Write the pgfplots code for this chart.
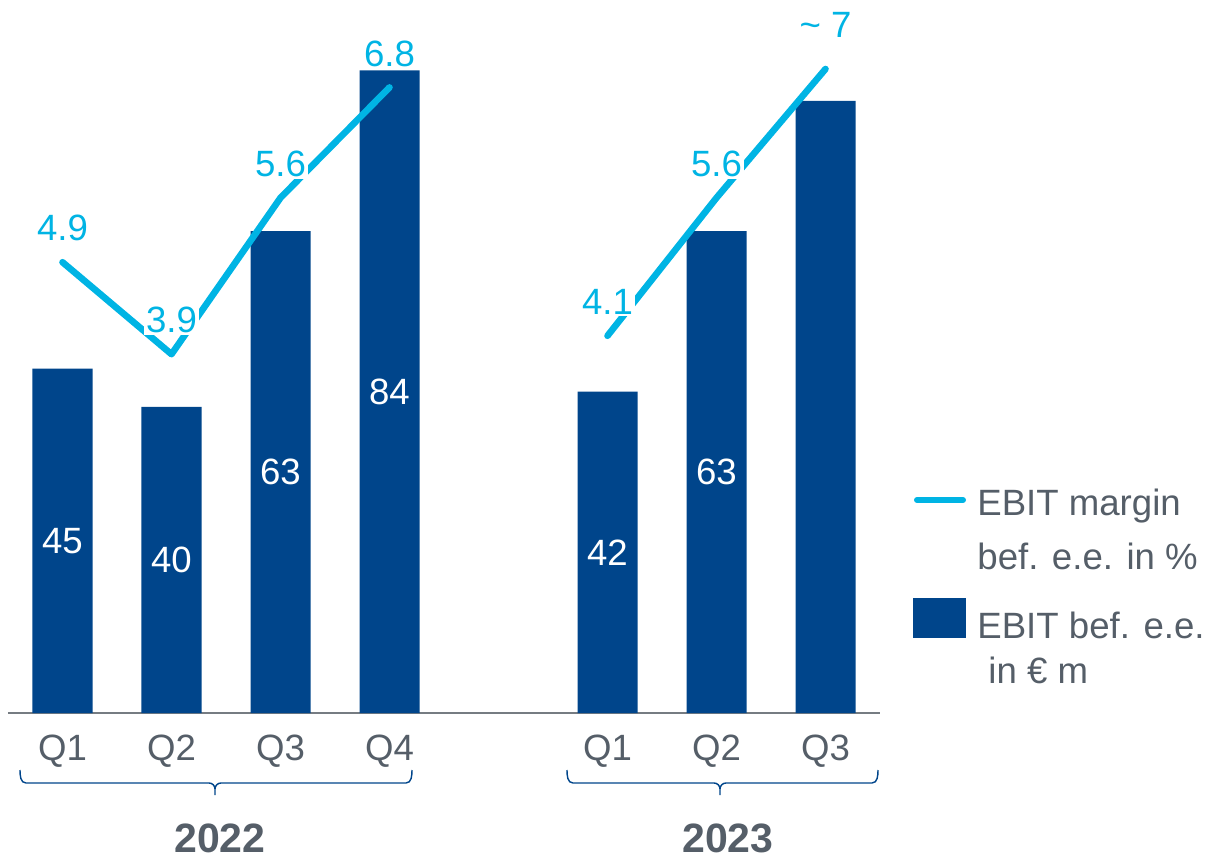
\documentclass[border=0pt]{standalone}
\usepackage{fontspec}
\setmainfont{Liberation Sans}
\usepackage{pgfplots}
\pgfplotsset{compat=1.18}
\definecolor{barblue}{RGB}{0,69,139}
\definecolor{linecyan}{RGB}{0,180,228}
\definecolor{txtgray}{RGB}{85,94,104}
\definecolor{axgray}{RGB}{118,124,130}
\newcommand{\lab}{\fontsize{18.3}{22}\selectfont}

\begin{document}
\begin{tikzpicture}
\pgfplotsset{
  base/.style={
    at={(0,0)}, anchor=south west,
    width=436pt, height=354.2pt, scale only axis,
    xmin=-0.5, xmax=7.5, ymin=0,
    clip=false,
  }
}
% bars: EBIT bef. e.e. in EUR m
\begin{axis}[base, ymax=92.6,
  hide y axis,
  axis x line*=bottom,
  x axis line style={-, draw=axgray, line width=1pt},
  xtick={0,1,2,3,5,6,7},
  xticklabels={Q1,Q2,Q3,Q4,Q1,Q2,Q3},
  major tick length=0pt,
  xticklabel style={anchor=center, yshift=-19pt, text=txtgray, font=\lab},
  ybar, bar width=30pt,
  point meta=explicit symbolic,
  nodes near coords,
  visualization depends on=rawy \as \rawy,
  every node near coord/.append style={anchor=center, text=white, font=\lab,
    shift={(axis direction cs:0,-\rawy/2)}},
]
\addplot[fill=barblue, draw=none] coordinates {
  (0,45)[45] (1,40)[40] (2,63)[63] (3,84)[84] (5,42)[42] (6,63)[63] (7,80)[]
};
\end{axis}
% line: EBIT margin in %
\begin{axis}[base, ymax=7.7, hide axis,
  point meta=explicit symbolic,
  nodes near coords,
  unbounded coords=jump,
  every node near coord/.append style={anchor=center, yshift=17pt,
    text=linecyan, font=\lab, fill=white, inner sep=1pt},
]
\addplot[linecyan, line width=3.3pt, line cap=round, line join=round] coordinates {
  (0,4.9)[4.9] (1,3.9)[3.9] (2,5.6)[5.6] (3,6.8)[6.8] (4,nan)[]
  (5,4.1)[4.1] (6,5.6)[5.6] (7,7)[\raisebox{10pt}{\textasciitilde\ 7}]
};
\end{axis}

% year braces
\begin{scope}[barblue, line width=0.7pt]
\draw (6pt,-28.5pt) to[out=-90,in=180] (9pt,-35pt) -- (100.5pt,-35pt)
  to[out=0,in=90] (103.5pt,-38pt) -- (103.5pt,-41pt);
\draw (202pt,-28.5pt) to[out=-90,in=0] (199pt,-35pt) -- (106.5pt,-35pt)
  to[out=180,in=90] (103.5pt,-38pt);
\draw (279.5pt,-28.5pt) to[out=-90,in=180] (282.5pt,-35pt) -- (353pt,-35pt)
  to[out=0,in=90] (356pt,-38pt) -- (356pt,-41pt);
\draw (435pt,-28.5pt) to[out=-90,in=0] (432pt,-35pt) -- (359pt,-35pt)
  to[out=180,in=90] (356pt,-38pt);
\end{scope}
\node[text=txtgray, font=\fontsize{20.5}{24}\selectfont\bfseries] at (106pt,-62.5pt) {2022};
\node[text=txtgray, font=\fontsize{20.5}{24}\selectfont\bfseries] at (360pt,-62.5pt) {2023};

% legend
\draw[linecyan, line width=3pt, line cap=round] (454.5pt,106.5pt) -- (477.5pt,106.5pt);
\fill[barblue] (452.5pt,37.5pt) rectangle (479pt,57.5pt);
\begin{scope}[every node/.style={anchor=base west, inner sep=0pt, text=txtgray, font=\lab}]
\node at (484.5pt,99pt) {EBIT margin};
\node at (484.5pt,71.5pt) {bef. e.e. in \%};
\node at (484.5pt,37.5pt) {EBIT bef. e.e.};
\node at (490pt,15pt) {in € m};
\end{scope}

\pgfresetboundingbox
\path[use as bounding box] (-4pt,-72.5pt) rectangle (599.5pt,356.5pt);
\end{tikzpicture}
\end{document}
